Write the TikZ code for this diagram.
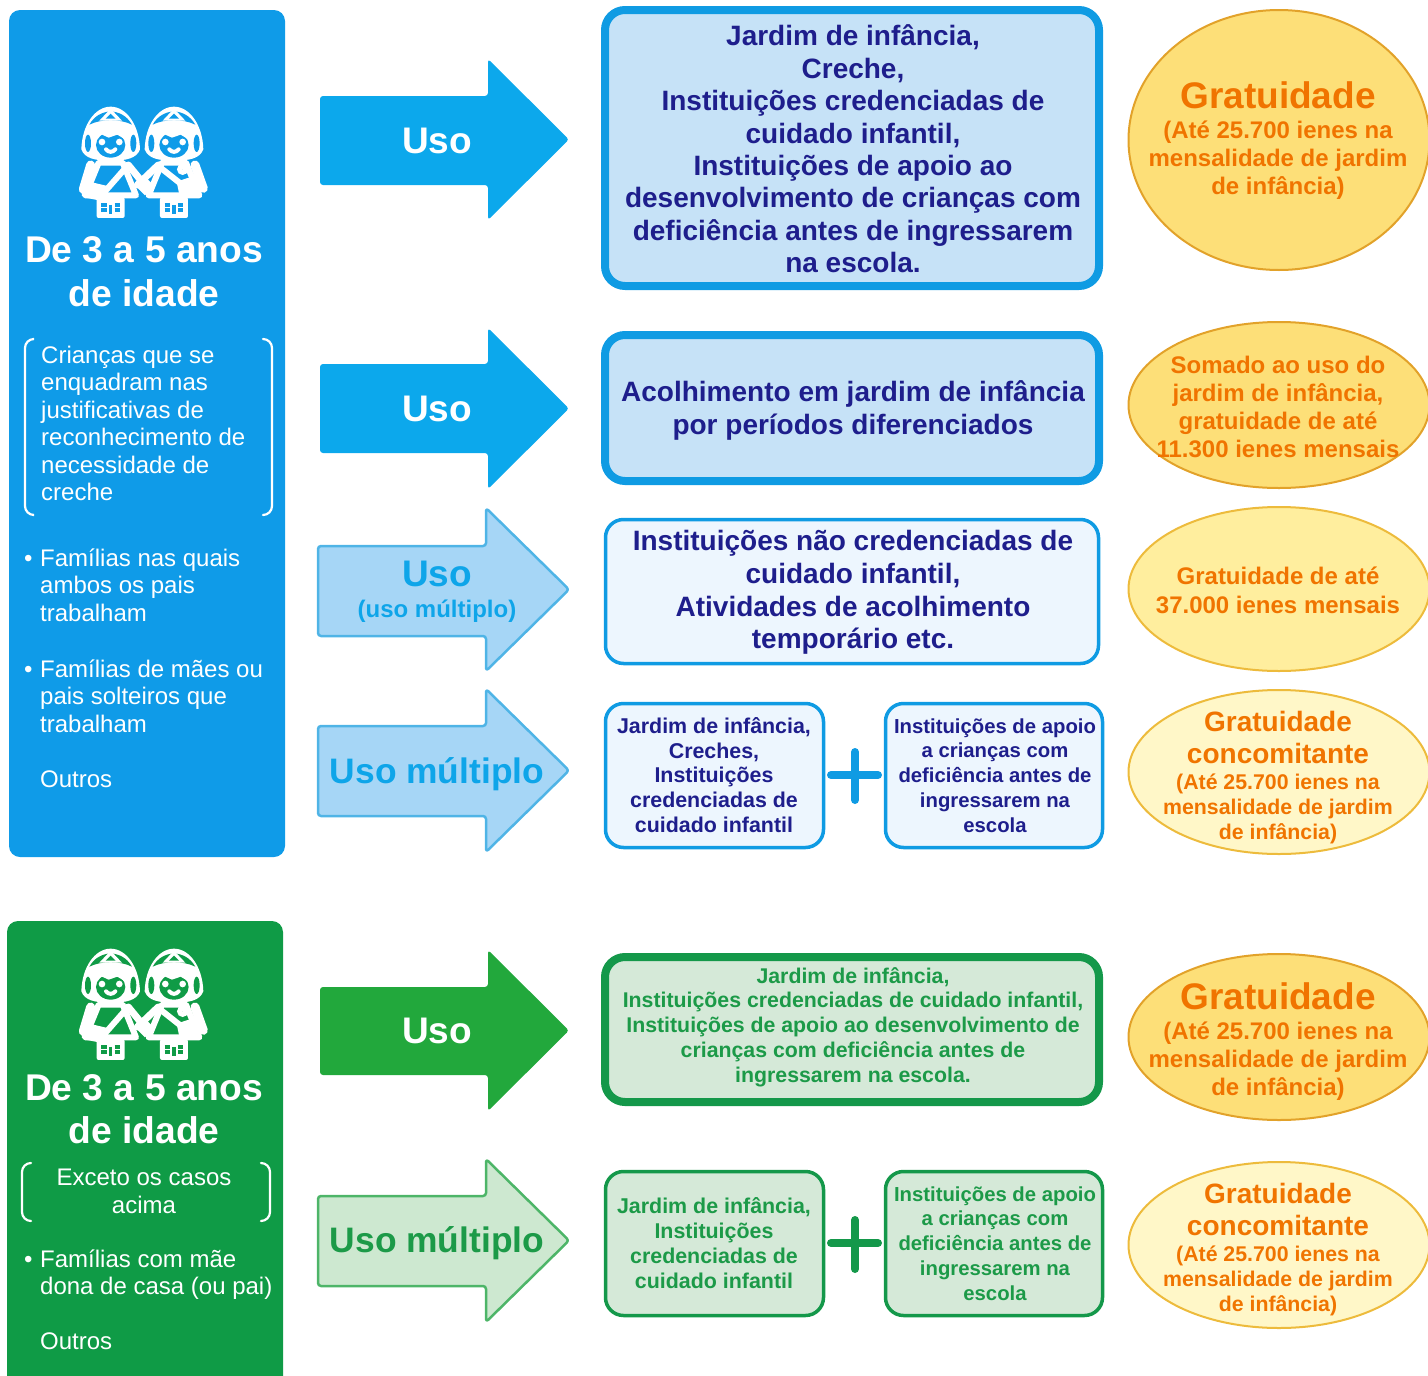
\documentclass[tikz,border=0pt]{standalone}
\usepackage{fontspec}
\setmainfont{Liberation Sans}
\definecolor{pblue}{HTML}{0F9BE8}
\definecolor{pgreen}{HTML}{0F9B46}
\definecolor{arrblue}{HTML}{0CA8EC}
\definecolor{arrlight}{HTML}{A6D6F6}
\definecolor{arrlightedge}{HTML}{4FB4E6}
\definecolor{arrgreen}{HTML}{22A83C}
\definecolor{arrglight}{HTML}{CDE8D0}
\definecolor{arrgedge}{HTML}{4DB568}
\definecolor{bedge}{HTML}{0F9BE3}
\definecolor{bfill}{HTML}{C6E2F7}
\definecolor{lfill}{HTML}{EDF6FE}
\definecolor{gedge}{HTML}{14984A}
\definecolor{gfill}{HTML}{D5E9D8}
\definecolor{navy}{HTML}{1E1E8C}
\definecolor{gtext}{HTML}{1C9A48}
\definecolor{lblue}{HTML}{0EA5E9}
\definecolor{otext}{HTML}{F07400}
\definecolor{e1}{HTML}{FDDF78}
\definecolor{e1e}{HTML}{E2A22A}
\definecolor{e2}{HTML}{FFEE9E}
\definecolor{e2e}{HTML}{EDBB3C}
\definecolor{e3}{HTML}{FFF7C8}
\tikzset{
 x=1pt,y=-1pt,
 panel/.style={rounded corners=11pt,draw=none},
 thickbox/.style={draw=bedge,fill=bfill,line width=8pt,rounded corners=20pt},
 thinbox/.style={draw=bedge,fill=lfill,line width=3.5pt,rounded corners=18pt},
 gthickbox/.style={draw=gedge,fill=gfill,line width=8pt,rounded corners=20pt},
 gthinbox/.style={draw=gedge,fill=gfill,line width=3.5pt,rounded corners=18pt},
 txt/.style 2 args={align=center,inner sep=0pt,font=\bfseries\fontsize{#1}{#2}\selectfont},
 rtxt/.style 2 args={align=center,inner sep=0pt,text=white,font=\fontsize{#1}{#2}\selectfont},
 ltxt/.style={align=left,inner sep=0pt,anchor=north west,text=white,font=\fontsize{24}{27.5}\selectfont},
 brk/.style={draw=white,line width=2.2pt,rounded corners=9pt,line cap=round},
 ell/.style={line width=2pt},
}
% #1 left, #2 shaft top, #3 shaft bottom, #4 head top, #5 head bottom, #6 style
\newcommand{\bigarrow}[6]{%
 \path[#6,line join=round,rounded corners=3pt] (#1,#2) -- (#1+168,#2) -- (#1+168,#4-2) -- (569,{(#4+#5)/2}) -- (#1+168,#5+2) -- (#1+168,#3) -- (#1,#3) -- cycle;}
\newcommand{\onekid}[2]{%
 \begin{scope}[shift={(#1,0)}]
 % legs
 \fill[white,rounded corners=2pt] (-40,322) rectangle (44,384);
 \draw[#2,line width=3.5pt] (2,345) -- (2,372) (-26,345)--(-10,345) (-26,360)--(-10,360) (14,345)--(30,345) (14,360)--(30,360);
 % body
 \draw[white,fill=#2,line width=6pt,line join=round] (-34,218) -- (-74,316) -- (78,316) -- (38,218) -- cycle;
 % hat, brim and hair as one white mass
 \fill[white] (-86,178) .. controls (-84,105) and (-45,50) .. (2,50) .. controls (49,50) and (88,105) .. (90,178) .. controls (80,205) and (50,212) .. (2,212) .. controls (-46,212) and (-76,205) .. (-86,178) -- cycle;
 % dome window
 \fill[#2] (-62,104) .. controls (-46,76) and (-22,66) .. (2,64) .. controls (26,66) and (50,76) .. (66,104) .. controls (30,86) and (-26,86) .. (-62,104) -- cycle;
 \fill[white] (2,56) -- (-32,92) -- (36,92) -- cycle;
 \fill[#2] (2,71) -- (-13,86) -- (17,86) -- cycle;
 % side pockets
 \fill[#2] (-66,160) ellipse [x radius=9,y radius=26] (70,160) ellipse [x radius=9,y radius=26];
 % face
 \fill[#2] (2,165) ellipse [x radius=44,y radius=38];
 \fill[white] (-46,128) -- (2,120) -- (50,128) -- (42,146) -- (22,134) -- (-4,143) -- (-26,133) -- (-42,148) -- cycle;
 \fill[white] (-24,156) circle [radius=10] (28,156) circle [radius=10];
 \draw[white,line width=4pt,line cap=round] (-12,178) .. controls (-4,188) and (8,188) .. (16,178);
 \end{scope}}
\newcommand{\kids}[3]{%
 \begin{scope}[shift={(#1,#2)},x=0.3333pt,y=-0.3333pt]
 \onekid{150}{#3}
 \onekid{340}{#3}
 % joined arms
 \draw[white,line width=7pt,line cap=round] (205,225) -- (258,290) (295,225) -- (232,285);
 \draw[white,line width=12pt] (255,288) circle [radius=3];
 % bags and straps
 \draw[white,line width=6pt] (200,230) -- (130,310) (300,232) -- (380,295);
 \draw[white,fill=white,line width=7pt,line join=round] (84,285) -- (135,297) -- (125,322) -- (75,312) -- cycle;
 \draw[white,fill=white,line width=7pt,line join=round] (362,282) -- (405,268) -- (415,295) -- (368,310) -- cycle;
 \draw[white,line width=5pt] (368,238) circle [radius=9];
 \draw[white,line width=9pt,line cap=round] (92,225) -- (70,298) (405,225) -- (430,295);
 \end{scope}}
\begin{document}
\begin{tikzpicture}
\useasboundingbox (0,0) rectangle (1428,1376);
\begin{scope}
\clip (0,0) rectangle (1428,1376);
% left panels
\path[panel,fill=pblue] (9,10) rectangle (285,857);
\path[panel,fill=pgreen] (7,921) rectangle (283,1400);
\kids{60}{90}{pblue}
\kids{60}{932}{pgreen}
\node[txt={37.2}{44},text=white] (t1) at (144,272) {De 3 a 5 anos\\de idade};
\node[txt={37.2}{43},text=white] (t2) at (144,1109.5) {De 3 a 5 anos\\de idade};
\node[ltxt] (d1) at (41,345.5) {Crianças que se\\enquadram nas\\justificativas de\\reconhecimento de\\necessidade de\\creche};
\draw[brk] (33,339) -- (25,339) -- (25,515) -- (33,515);
\draw[brk] (263,339) -- (272,339) -- (272,515) -- (263,515);
\node[ltxt] (d2) at (24,555) {•};
\node[ltxt] (d3) at (40,548.5) {Famílias nas quais\\ambos os pais\\trabalham};
\node[ltxt] (d4) at (24,666) {•};
\node[ltxt] (d5) at (40,659.5) {Famílias de mães ou\\pais solteiros que\\trabalham};
\node[ltxt] (d6) at (40,770.5) {Outros};
\node[rtxt={24}{27.5}] (g1) at (144,1191.5) {Exceto os casos\\acima};
\draw[brk] (31,1163) -- (22,1163) -- (22,1221) -- (31,1221);
\draw[brk] (261,1163) -- (270,1163) -- (270,1221) -- (261,1221);
\node[ltxt] (g2) at (24,1256) {•};
\node[ltxt] (g3) at (40,1249.5) {Famílias com mãe\\dona de casa (ou pai)};
\node[ltxt] (g4) at (40,1332.5) {Outros};
% arrows
\bigarrow{320}{96}{185}{61}{218}{fill=arrblue}
\bigarrow{320}{364}{453}{330}{487}{fill=arrblue}
\bigarrow{318}{546}{636}{510}{669}{fill=arrlight,draw=arrlightedge,line width=2.5pt}
\bigarrow{318}{726}{816}{691}{850}{fill=arrlight,draw=arrlightedge,line width=2.5pt}
\bigarrow{320}{987}{1075}{952}{1109}{fill=arrgreen}
\bigarrow{318}{1196}{1286}{1161}{1320}{fill=arrglight,draw=arrgedge,line width=2.5pt}
\node[txt={37}{44},text=white] (a1) at (437,141) {Uso};
\node[txt={37}{44},text=white] (a2) at (437,409) {Uso};
\node[txt={37}{44},text=lblue] (a3) at (437,574) {Uso};
\node[txt={24}{28},text=lblue] (a3b) at (437,611) {(uso múltiplo)};
\node[txt={35.4}{44},text=lblue] (a4) at (437,774) {Uso múltiplo};
\node[txt={37}{44},text=white] (a5) at (437,1031) {Uso};
\node[txt={35.4}{44},text=gtext] (a6) at (437,1243) {Uso múltiplo};
% boxes
\path[thickbox] (605,10) rectangle (1099,286);
\path[thickbox] (605,335) rectangle (1099,481);
\path[thinbox] (605.5,519.5) rectangle (1098.5,663.5);
\path[thinbox] (605.5,703.5) rectangle (823.5,847.5);
\path[thinbox] (885.5,703.5) rectangle (1102.5,847.5);
\path[gthickbox] (605,957) rectangle (1099,1102);
\path[gthinbox] (605.5,1171.5) rectangle (823.5,1315.5);
\path[gthinbox] (885.5,1171.5) rectangle (1102.5,1315.5);
\node[txt={28}{32.4},text=navy] (b1) at (853,149) {Jardim de infância,\\Creche,\\Instituições credenciadas de\\cuidado infantil,\\Instituições de apoio ao\\desenvolvimento de crianças com\\deficiência antes de ingressarem\\na escola.};
\node[txt={28}{33},text=navy] (b2) at (853,410) {Acolhimento em jardim de infância\\por períodos diferenciados};
\node[txt={28}{32.8},text=navy] (b3) at (853,592.5) {Instituições não credenciadas de\\cuidado infantil,\\Atividades de acolhimento\\temporário etc.};
\node[txt={21.4}{24.8},text=navy] (b4) at (714,775) {Jardim de infância,\\Creches,\\Instituições\\credenciadas de\\cuidado infantil};
\node[txt={20.3}{24.8},text=navy] (b5) at (995,775.5) {Instituições de apoio\\a crianças com\\deficiência antes de\\ingressarem na\\escola};
\node[txt={21.3}{24.8},text=gtext] (b6) at (853,1027) {Jardim de infância,\\Instituições credenciadas de cuidado infantil,\\Instituições de apoio ao desenvolvimento de\\crianças com deficiência antes de\\ingressarem na escola.};
\node[txt={21.4}{25},text=gtext] (b7) at (714,1243) {Jardim de infância,\\Instituições\\credenciadas de\\cuidado infantil};
\node[txt={20.3}{24.8},text=gtext] (b8) at (995,1243.5) {Instituições de apoio\\a crianças com\\deficiência antes de\\ingressarem na\\escola};
% plus signs
\draw[bedge,line width=8pt,line cap=round] (831,775) -- (878,775) (855,752) -- (855,800);
\draw[gedge,line width=8pt,line cap=round] (831,1243) -- (878,1243) (855,1220) -- (855,1269);
% ellipses
\path[ell,fill=e1,draw=e1e] (1279,140) ellipse [x radius=150.5,y radius=130];
\path[ell,fill=e1,draw=e1e] (1279,405) ellipse [x radius=150.5,y radius=83];
\path[ell,fill=e2,draw=e2e] (1279,589) ellipse [x radius=150.5,y radius=82];
\path[ell,fill=e3,draw=e2e] (1279,772) ellipse [x radius=150.5,y radius=82];
\path[ell,fill=e1,draw=e1e] (1279,1037) ellipse [x radius=150.5,y radius=83];
\path[ell,fill=e3,draw=e2e] (1279,1245) ellipse [x radius=150.5,y radius=83];
\node[txt={37}{44},text=otext] (c1) at (1278,95) {Gratuidade};
\node[txt={24}{28},text=otext] (c1b) at (1278,160) {(Até 25.700 ienes na\\mensalidade de jardim\\de infância)};
\node[txt={24}{28},text=otext] (c2) at (1278,407) {Somado ao uso do\\jardim de infância,\\gratuidade de até\\11.300 ienes mensais};
\node[txt={24}{29},text=otext] (c3) at (1278,590) {Gratuidade de até\\37.000 ienes mensais};
\node[txt={28}{32},text=otext] (c4) at (1278,737) {Gratuidade\\concomitante};
\node[txt={21.3}{25},text=otext] (c4b) at (1278,809) {(Até 25.700 ienes na\\mensalidade de jardim\\de infância)};
\node[txt={37}{44},text=otext] (c5) at (1278,996) {Gratuidade};
\node[txt={24}{28},text=otext] (c5b) at (1278,1061) {(Até 25.700 ienes na\\mensalidade de jardim\\de infância)};
\node[txt={28}{32},text=otext] (c6) at (1278,1209) {Gratuidade\\concomitante};
\node[txt={21.3}{25},text=otext] (c6b) at (1278,1281) {(Até 25.700 ienes na\\mensalidade de jardim\\de infância)};
\end{scope}
\end{tikzpicture}
\end{document}
